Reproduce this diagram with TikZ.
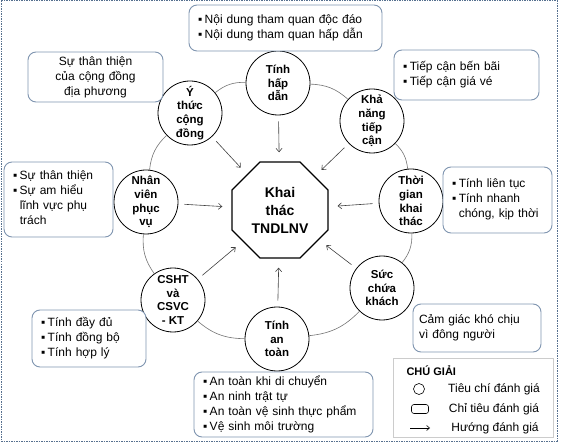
\documentclass[tikz,border=0pt]{standalone}
\usepackage{fontspec}
\setmainfont{Liberation Sans}
\usetikzlibrary{shapes.geometric, arrows.meta}

\definecolor{notecol}{HTML}{7F95B0}
\definecolor{framecol}{HTML}{56708F}

\begin{document}
\begin{tikzpicture}[
  x=1pt, y=-1pt,
  crit/.style={
    draw, line width=0.8pt, circle, fill=white, minimum size=64pt,
    inner sep=0pt, align=center, font=\fontsize{11.5}{13.8}\selectfont\bfseries
  },
  target/.style={
    draw, line width=1.3pt, regular polygon, regular polygon sides=8,
    minimum size=104pt, inner sep=0pt, align=center,
    font=\fontsize{14}{18}\selectfont\bfseries
  },
  note/.style={
    draw=notecol, line width=0.9pt, fill=white, rounded corners=8pt,
    inner xsep=9pt, inner ysep=0pt, align=left,
    font=\fontsize{12}{15}\selectfont
  },
  legendbox/.style={draw=gray!40, line width=0.9pt, fill=white},
  ring/.style={draw=black!55, line width=0.6pt},
  arrow/.style={-{Straight Barb[length=3.5pt, width=6pt]}, draw=black!75,
    line width=0.6pt, shorten <=6pt, shorten >=9pt},
  lgtext/.style={font=\fontsize{12}{14}\selectfont},
]
\useasboundingbox (0,0) rectangle (567,443);
\draw[framecol, line width=1pt, dash pattern=on 1.5pt off 1pt] (1,1) rectangle (557,441);

\node[target] (core) at (280,210) {Khai\\thác\\TNDLNV};

\node[crit] (attr)  at (278,83)  {Tính\\hấp\\dẫn};
\node[crit] (acc)   at (372,121) {Khả\\năng\\tiếp\\cận};
\node[crit] (time)  at (411,201) {Thời\\gian\\khai\\thác};
\node[crit] (cap)   at (382,288) {Sức\\chứa\\khách};
\node[crit] (safe)  at (277,339) {Tính\\an\\toàn};
\node[crit] (infra) at (173,300) {CSHT\\và\\CSVC\\- KT};
\node[crit] (staff) at (146,202) {Nhân\\viên\\phục\\vụ};
\node[crit] (comm)  at (190,113) {Ý\\thức\\cộng\\đồng};

\draw[ring] (attr) to[bend left=20] (acc);
\draw[ring] (acc) to[bend left=20] (time);
\draw[ring] (time) to[bend left=20] (cap);
\draw[ring] (cap) to[bend left=20] (safe);
\draw[ring] (safe) to[bend left=20] (infra);
\draw[ring] (infra) to[bend left=20] (staff);
\draw[ring] (staff) to[bend left=20] (comm);
\draw[ring] (comm) to[bend left=20] (attr);

\foreach \c in {attr, acc, time, cap, safe, infra, staff, comm}
  \draw[arrow] (\c) -- (core);

\node[note, text width=175pt, minimum height=46pt] (nattr) at (285.5,28)
  {\begin{tabular}{@{}l@{\hspace{2.5pt}}l@{}}
   ▪ & Nội dung tham quan độc đáo\\
   ▪ & Nội dung tham quan hấp dẫn
   \end{tabular}};
\node[note, text width=117pt, minimum height=50pt, align=center] (ncomm) at (95.5,77)
  {Sự thân thiện\\của cộng đồng\\địa phương};
\node[note, text width=127pt, minimum height=50pt] (nacc) at (466.5,75)
  {\begin{tabular}{@{}l@{\hspace{2.5pt}}l@{}}
   ▪ & Tiếp cận bến bãi\\
   ▪ & Tiếp cận giá vé
   \end{tabular}};
\node[note, text width=91pt, minimum height=75pt] (nstaff) at (58.5,199.5)
  {\begin{tabular}{@{}l@{\hspace{2.5pt}}l@{}}
   ▪ & Sự thân thiện\\
   ▪ & Sự am hiểu\\
     & lĩnh vực phụ\\
     & trách
   \end{tabular}};
\node[note, text width=91pt, minimum height=66pt] (ntime) at (497.5,200)
  {\begin{tabular}{@{}l@{\hspace{2.5pt}}l@{}}
   ▪ & Tính liên tục\\
   ▪ & Tính nhanh\\
     & chóng, kịp thời
   \end{tabular}};
\node[note, text width=96pt, minimum height=57pt] (ninfra) at (89,338.5)
  {\begin{tabular}{@{}l@{\hspace{2.5pt}}l@{}}
   ▪ & Tính đầy đủ\\
   ▪ & Tính đồng bộ\\
   ▪ & Tính hợp lý
   \end{tabular}};
\node[note, text width=161pt, minimum height=65pt] (nsafe) at (283.5,404.5)
  {\begin{tabular}{@{}l@{\hspace{2.5pt}}l@{}}
   ▪ & An toàn khi di chuyển\\
   ▪ & An ninh trật tự\\
   ▪ & An toàn vệ sinh thực phẩm\\
   ▪ & Vệ sinh môi trường
   \end{tabular}};
\node[note, text width=116pt, minimum height=48pt, inner xsep=6pt] (ncap) at (477,328)
  {Cảm giác khó chịu\\vì đông người};

\node[legendbox, minimum width=160pt, minimum height=79pt] (legend) at (473,397.5) {};
\node[anchor=west, font=\fontsize{11}{13}\selectfont\bfseries] (lgtitle) at (403,371) {CHÚ GIẢI};
\node[draw, circle, line width=0.6pt, minimum size=11pt, inner sep=0pt] (lgcirc) at (419,389) {};
\node[lgtext] (lgcirctxt) at (494,389) {Tiêu chí đánh giá};
\node[draw, rounded corners=2.5pt, line width=0.6pt, minimum width=17pt, minimum height=9pt, inner sep=0pt] (lgrect) at (420,409) {};
\node[lgtext] (lgrecttxt) at (494,409) {Chỉ tiêu đánh giá};
\coordinate (lgarrA) at (410,428);
\coordinate (lgarrB) at (430,428);
\draw[-{Straight Barb[length=3pt, width=5pt]}, line width=0.6pt] (lgarrA) -- (lgarrB);
\node[lgtext] (lgarrtxt) at (495,428) {Hướng đánh giá};

\end{tikzpicture}
\end{document}
